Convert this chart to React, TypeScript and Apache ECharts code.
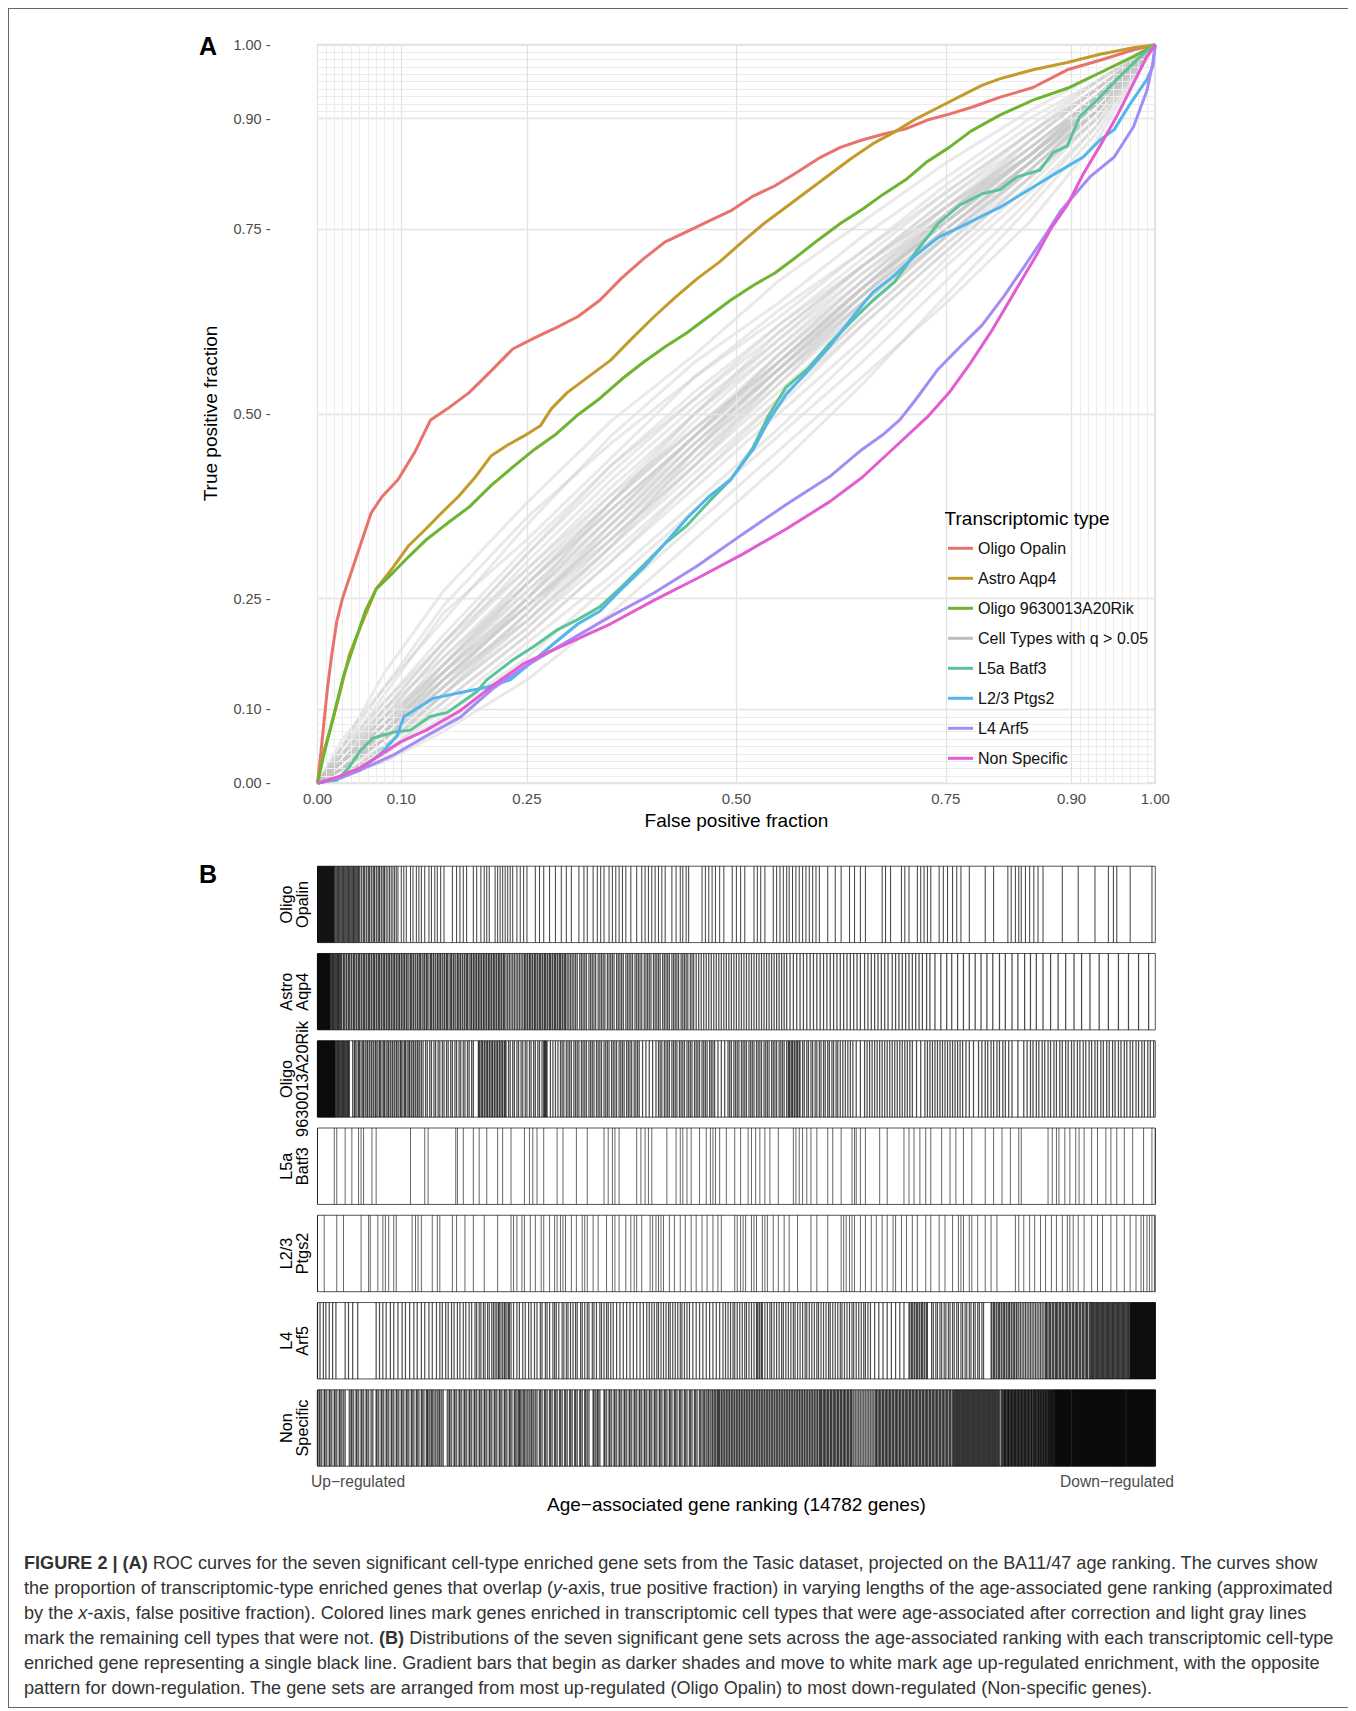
import React, { useEffect, useRef } from "react";
import * as echarts from "echarts";

const FONT = '"Liberation Sans", Arial, Helvetica, sans-serif';

// ---------- Panel A: axes ----------
const AXIS_TICKS = [0, 0.1, 0.25, 0.5, 0.75, 0.9, 1];
const MAJOR_BREAKS = [0, 0.1, 0.25, 0.5, 0.75, 0.9, 1];
const MINOR_BREAKS = [0.01, 0.02, 0.03, 0.04, 0.05, 0.06, 0.07, 0.08, 0.09, 0.91, 0.92, 0.93, 0.94, 0.95, 0.96, 0.97, 0.98, 0.99];

const SERIES_NAMES = [
  "Oligo Opalin",
  "Astro Aqp4",
  "Oligo 9630013A20Rik",
  "Cell Types with q > 0.05",
  "L5a Batf3",
  "L2/3 Ptgs2",
  "L4 Arf5",
  "Non Specific",
];
const SERIES_COLORS = ["#E8736C", "#C49A2A", "#6DB42F", "#BEBEBE", "#5CC399", "#52B6EA", "#A58BF6", "#E35CD0"];

// ---------- Panel A: ROC curves [false positive fraction, true positive fraction] ----------
const OLIGO_OPALIN = [
  [0, 0], [0.004, 0.041], [0.008, 0.086], [0.012, 0.13], [0.017, 0.174], [0.023, 0.219], [0.03, 0.251], [0.038, 0.278],
  [0.051, 0.322], [0.064, 0.366], [0.077, 0.388], [0.096, 0.411], [0.116, 0.448], [0.135, 0.492], [0.155, 0.507],
  [0.181, 0.529], [0.207, 0.558], [0.233, 0.588], [0.259, 0.603], [0.285, 0.617], [0.311, 0.632], [0.337, 0.654],
  [0.363, 0.684], [0.389, 0.71], [0.415, 0.733], [0.441, 0.747], [0.467, 0.761], [0.493, 0.775], [0.52, 0.795],
  [0.546, 0.809], [0.572, 0.827], [0.598, 0.846], [0.624, 0.861], [0.65, 0.871], [0.676, 0.879], [0.702, 0.886],
  [0.728, 0.898], [0.754, 0.906], [0.78, 0.915], [0.815, 0.929], [0.854, 0.942], [0.895, 0.966], [0.934, 0.979],
  [0.974, 0.993], [1, 1],
];
const ASTRO_AQP4 = [
  [0, 0], [0.007, 0.041], [0.014, 0.068], [0.025, 0.115], [0.038, 0.174], [0.051, 0.211], [0.07, 0.263], [0.09, 0.292],
  [0.109, 0.322], [0.129, 0.344], [0.148, 0.366], [0.168, 0.388], [0.188, 0.414], [0.207, 0.443], [0.227, 0.458],
  [0.246, 0.47], [0.266, 0.484], [0.279, 0.507], [0.298, 0.529], [0.324, 0.551], [0.35, 0.573], [0.376, 0.603],
  [0.402, 0.632], [0.428, 0.659], [0.454, 0.684], [0.48, 0.706], [0.507, 0.733], [0.533, 0.758], [0.559, 0.78],
  [0.585, 0.802], [0.611, 0.824], [0.637, 0.846], [0.663, 0.866], [0.689, 0.882], [0.715, 0.9], [0.741, 0.915],
  [0.767, 0.93], [0.793, 0.945], [0.815, 0.954], [0.854, 0.966], [0.895, 0.976], [0.934, 0.987], [0.974, 0.996], [1, 1],
];
const OLIGO_9630 = [
  [0, 0], [0.008, 0.041], [0.018, 0.086], [0.031, 0.145], [0.044, 0.189], [0.057, 0.233], [0.07, 0.263], [0.09, 0.285],
  [0.109, 0.307], [0.129, 0.329], [0.155, 0.352], [0.181, 0.374], [0.207, 0.403], [0.233, 0.428], [0.259, 0.452],
  [0.285, 0.473], [0.311, 0.499], [0.337, 0.521], [0.363, 0.547], [0.389, 0.57], [0.415, 0.591], [0.441, 0.61],
  [0.467, 0.632], [0.493, 0.654], [0.52, 0.674], [0.546, 0.691], [0.572, 0.713], [0.598, 0.736], [0.624, 0.758],
  [0.65, 0.777], [0.676, 0.798], [0.702, 0.817], [0.728, 0.842], [0.754, 0.861], [0.78, 0.883], [0.815, 0.905],
  [0.854, 0.925], [0.895, 0.941], [0.934, 0.962], [0.974, 0.984], [1, 1],
];
const L5A_BATF3 = [
  [0, 0], [0.012, 0.003], [0.023, 0.004], [0.038, 0.022], [0.051, 0.044], [0.066, 0.061], [0.09, 0.069], [0.111, 0.072],
  [0.134, 0.09], [0.155, 0.096], [0.19, 0.124], [0.202, 0.14], [0.233, 0.167], [0.259, 0.186], [0.285, 0.207],
  [0.311, 0.222], [0.337, 0.239], [0.363, 0.266], [0.389, 0.295], [0.415, 0.325], [0.441, 0.349], [0.467, 0.381],
  [0.493, 0.411], [0.52, 0.455], [0.539, 0.499], [0.559, 0.536], [0.585, 0.561], [0.611, 0.595], [0.637, 0.625],
  [0.663, 0.654], [0.689, 0.679], [0.715, 0.721], [0.741, 0.758], [0.767, 0.783], [0.793, 0.798], [0.815, 0.804],
  [0.835, 0.821], [0.862, 0.83], [0.878, 0.854], [0.895, 0.863], [0.91, 0.903], [0.934, 0.929], [0.954, 0.953],
  [0.974, 0.975], [0.986, 0.988], [1, 1],
];
const L23_PTGS2 = [
  [0, 0], [0.025, 0.006], [0.051, 0.018], [0.078, 0.043], [0.095, 0.064], [0.103, 0.09], [0.138, 0.115], [0.171, 0.123],
  [0.202, 0.13], [0.23, 0.14], [0.259, 0.167], [0.285, 0.192], [0.311, 0.216], [0.337, 0.233], [0.363, 0.263],
  [0.389, 0.292], [0.415, 0.325], [0.441, 0.359], [0.467, 0.388], [0.493, 0.411], [0.52, 0.452], [0.539, 0.492],
  [0.559, 0.526], [0.585, 0.558], [0.611, 0.591], [0.637, 0.629], [0.663, 0.665], [0.689, 0.688], [0.715, 0.716],
  [0.741, 0.739], [0.767, 0.753], [0.793, 0.768], [0.815, 0.78], [0.845, 0.801], [0.874, 0.821], [0.914, 0.848],
  [0.934, 0.871], [0.951, 0.885], [0.97, 0.92], [0.99, 0.953], [0.997, 0.97], [1, 1],
];
const L4_ARF5 = [
  [0, 0], [0.025, 0.007], [0.051, 0.018], [0.09, 0.038], [0.13, 0.064], [0.171, 0.09], [0.21, 0.129], [0.246, 0.157],
  [0.298, 0.192], [0.35, 0.226], [0.402, 0.258], [0.454, 0.295], [0.507, 0.337], [0.559, 0.377], [0.611, 0.415],
  [0.65, 0.452], [0.676, 0.473], [0.695, 0.492], [0.715, 0.521], [0.741, 0.561], [0.767, 0.591], [0.793, 0.62],
  [0.819, 0.659], [0.845, 0.702], [0.871, 0.746], [0.887, 0.775], [0.922, 0.821], [0.951, 0.848], [0.974, 0.889],
  [0.99, 0.938], [0.997, 0.975], [1, 1],
];
const NON_SPECIFIC = [
  [0, 0], [0.025, 0.009], [0.051, 0.021], [0.099, 0.056], [0.13, 0.072], [0.171, 0.099], [0.21, 0.133], [0.246, 0.162],
  [0.298, 0.189], [0.35, 0.216], [0.402, 0.248], [0.454, 0.278], [0.507, 0.31], [0.559, 0.344], [0.611, 0.381],
  [0.65, 0.414], [0.689, 0.455], [0.728, 0.496], [0.754, 0.529], [0.78, 0.57], [0.806, 0.615], [0.832, 0.665],
  [0.858, 0.715], [0.876, 0.752], [0.895, 0.783], [0.914, 0.825], [0.934, 0.863], [0.954, 0.903], [0.974, 0.948],
  [0.99, 0.984], [1, 1],
];
const COLORED_CURVES = [OLIGO_OPALIN, ASTRO_AQP4, OLIGO_9630, null, L5A_BATF3, L23_PTGS2, L4_ARF5, NON_SPECIFIC];

// gray curves (cell types with q > 0.05): y values at the shared x positions
const GRAY_X = [0, 0.03, 0.08, 0.15, 0.25, 0.35, 0.45, 0.55, 0.65, 0.75, 0.85, 0.93, 1];
const GRAY_Y = [
  [0, 0.05, 0.15, 0.26, 0.38, 0.49, 0.58, 0.68, 0.76, 0.84, 0.91, 0.96, 1],
  [0, 0.06, 0.13, 0.22, 0.35, 0.47, 0.57, 0.65, 0.74, 0.82, 0.9, 0.95, 1],
  [0, 0.04, 0.12, 0.23, 0.33, 0.44, 0.55, 0.64, 0.72, 0.81, 0.89, 0.95, 1],
  [0, 0.05, 0.11, 0.2, 0.32, 0.43, 0.52, 0.62, 0.71, 0.8, 0.88, 0.95, 1],
  [0, 0.04, 0.1, 0.19, 0.31, 0.42, 0.52, 0.61, 0.7, 0.79, 0.88, 0.94, 1],
  [0, 0.03, 0.09, 0.18, 0.29, 0.4, 0.5, 0.6, 0.7, 0.78, 0.87, 0.94, 1],
  [0, 0.04, 0.1, 0.17, 0.28, 0.39, 0.5, 0.59, 0.68, 0.78, 0.86, 0.93, 1],
  [0, 0.03, 0.08, 0.17, 0.27, 0.38, 0.48, 0.58, 0.68, 0.77, 0.86, 0.93, 1],
  [0, 0.03, 0.09, 0.16, 0.27, 0.37, 0.47, 0.58, 0.67, 0.77, 0.85, 0.93, 1],
  [0, 0.02, 0.08, 0.16, 0.26, 0.37, 0.47, 0.57, 0.67, 0.76, 0.85, 0.92, 1],
  [0, 0.03, 0.07, 0.15, 0.26, 0.36, 0.46, 0.56, 0.66, 0.76, 0.85, 0.93, 1],
  [0, 0.02, 0.07, 0.15, 0.25, 0.35, 0.46, 0.56, 0.66, 0.75, 0.84, 0.92, 1],
  [0, 0.03, 0.08, 0.14, 0.24, 0.35, 0.45, 0.55, 0.65, 0.75, 0.84, 0.92, 1],
  [0, 0.02, 0.06, 0.14, 0.24, 0.34, 0.44, 0.55, 0.65, 0.74, 0.84, 0.92, 1],
  [0, 0.02, 0.07, 0.13, 0.23, 0.33, 0.44, 0.54, 0.64, 0.74, 0.83, 0.91, 1],
  [0, 0.02, 0.06, 0.13, 0.22, 0.33, 0.43, 0.53, 0.63, 0.73, 0.83, 0.91, 1],
  [0, 0.01, 0.05, 0.12, 0.22, 0.32, 0.42, 0.52, 0.63, 0.73, 0.82, 0.91, 1],
  [0, 0.02, 0.06, 0.12, 0.21, 0.31, 0.41, 0.51, 0.62, 0.72, 0.82, 0.9, 1],
  [0, 0.01, 0.05, 0.11, 0.2, 0.3, 0.4, 0.5, 0.6, 0.71, 0.81, 0.9, 1],
  [0, 0.01, 0.04, 0.1, 0.19, 0.28, 0.38, 0.48, 0.59, 0.7, 0.8, 0.89, 1],
  [0, 0.01, 0.04, 0.09, 0.17, 0.27, 0.37, 0.47, 0.57, 0.68, 0.79, 0.89, 1],
  [0, 0.02, 0.06, 0.13, 0.25, 0.38, 0.5, 0.61, 0.7, 0.78, 0.85, 0.92, 1],
  [0, 0.04, 0.09, 0.15, 0.24, 0.33, 0.43, 0.55, 0.66, 0.77, 0.87, 0.94, 1],
  [0, 0.03, 0.07, 0.14, 0.22, 0.32, 0.45, 0.57, 0.67, 0.76, 0.84, 0.91, 1],
  [0, 0.01, 0.03, 0.07, 0.14, 0.23, 0.33, 0.43, 0.54, 0.66, 0.78, 0.88, 1],
  [0, 0.01, 0.03, 0.08, 0.16, 0.25, 0.35, 0.45, 0.55, 0.65, 0.76, 0.87, 1],
  [0, 0.02, 0.07, 0.15, 0.27, 0.38, 0.48, 0.57, 0.66, 0.75, 0.84, 0.92, 1],
  [0, 0.03, 0.08, 0.16, 0.28, 0.38, 0.49, 0.59, 0.69, 0.78, 0.86, 0.93, 1],
  [0, 0.02, 0.06, 0.14, 0.25, 0.36, 0.47, 0.58, 0.68, 0.77, 0.85, 0.92, 1],
  [0, 0.03, 0.09, 0.18, 0.3, 0.41, 0.51, 0.6, 0.69, 0.77, 0.85, 0.92, 1],
  [0, 0.02, 0.07, 0.14, 0.24, 0.34, 0.45, 0.56, 0.67, 0.77, 0.86, 0.93, 1],
  [0, 0.01, 0.05, 0.12, 0.23, 0.35, 0.46, 0.56, 0.66, 0.75, 0.84, 0.91, 1],
  [0, 0.04, 0.11, 0.19, 0.29, 0.39, 0.48, 0.57, 0.67, 0.76, 0.85, 0.93, 1],
  [0, 0.02, 0.06, 0.13, 0.23, 0.34, 0.45, 0.55, 0.64, 0.74, 0.83, 0.91, 1],
  [0, 0.03, 0.08, 0.15, 0.25, 0.36, 0.47, 0.57, 0.67, 0.76, 0.85, 0.93, 1],
  [0, 0.02, 0.05, 0.12, 0.21, 0.32, 0.43, 0.54, 0.65, 0.75, 0.84, 0.92, 1],
  [0, 0.03, 0.1, 0.19, 0.31, 0.43, 0.53, 0.62, 0.7, 0.79, 0.87, 0.94, 1],
  [0, 0.05, 0.13, 0.24, 0.36, 0.46, 0.55, 0.63, 0.72, 0.8, 0.88, 0.94, 1],
  [0, 0.01, 0.04, 0.11, 0.2, 0.3, 0.41, 0.52, 0.62, 0.72, 0.82, 0.9, 1],
  [0, 0.02, 0.07, 0.16, 0.27, 0.37, 0.47, 0.56, 0.65, 0.74, 0.83, 0.91, 1],
];

// ---------- Panel B: gene positions along the ranking (per mille of the 14782 ranked genes) ----------
const STRIP_LABELS = ["Oligo\nOpalin", "Astro\nAqp4", "Oligo\n9630013A20Rik", "L5a\nBatf3", "L2/3\nPtgs2", "L4\nArf5", "Non\nSpecific"];

const POS_OLIGO_OPALIN = [
  0, 0.5, 1, 1.5, 2, 2.5, 3, 3.5, 4, 4.5, 5, 5.5, 6, 6.5, 7, 7.5, 8, 8.5, 9, 9.5, 10, 10.5, 11, 11.5, 12, 12.5, 13,
  13.5, 14, 14.5, 15, 15.5, 16, 16.5, 17, 17.5, 18, 18.5, 19, 19.5, 20, 21, 22, 23, 24, 25, 26, 27, 28, 29, 30, 31,
  32, 33, 34, 35, 36, 37, 38, 39, 40, 41, 42, 43, 44, 45, 46, 47, 48, 49, 50,
  52, 53, 55, 56, 58, 59, 61, 62, 64, 65, 67, 68, 70, 71, 73, 74, 76, 77, 79, 80, 82, 84, 86, 88, 90, 92, 94, 96,
  100, 103, 106, 111, 114, 118, 121, 124, 128, 133, 136, 140, 143, 147, 151, 161, 166, 170, 174, 178,
  186, 190, 195, 199, 202, 205, 212, 215, 218, 221, 224, 227, 230, 233, 238, 242, 246, 250, 260, 265, 270, 277, 284,
  291, 297, 303, 312, 318, 322, 329, 334, 338, 342, 348, 352, 356, 360, 364, 368, 374, 381, 387, 391, 395, 399, 403,
  407, 411, 415, 423, 428, 433, 436, 440, 443, 459, 463, 467, 471, 475, 480, 485, 495, 500, 505, 510, 521, 525, 529,
  534, 544, 548, 552, 556, 560, 563, 567, 571, 575, 579, 583, 587, 591, 595, 599, 609, 618, 625, 635, 641, 648, 654,
  674, 678, 684, 697, 701, 706, 716, 720, 724, 728, 732, 742, 747, 752, 758, 763, 768, 778, 797, 807, 824, 828, 833,
  837, 840, 845, 850, 855, 860, 866, 889, 908, 928, 944, 950, 954, 970, 996,
];
const POS_ASTRO_AQP4 = [
  0, 0.5, 1, 1.5, 2, 2.5, 3, 3.5, 4, 4.5, 5, 5.5, 6, 6.5, 7, 7.5, 8, 8.5, 9, 9.5, 10, 10.5, 11, 11.5, 12, 12.5, 13,
  13.5, 14, 14.5, 15, 16, 17, 18, 19, 20, 21, 22, 23, 24, 25, 26, 27, 28, 29,
  31, 32, 34, 35, 37, 38, 40, 41, 43, 44, 46, 47, 49, 50, 52, 53, 55, 56, 58, 59, 61, 62, 64, 65, 67, 68, 70, 71, 73,
  74, 76, 77, 79, 80, 82, 83, 85, 86, 88, 89, 91, 92, 94, 95, 97, 98, 100, 101, 103, 104, 106, 107, 109, 111, 112,
  114, 115, 117, 119, 120, 122, 123, 125, 127, 128, 130, 131, 133, 135, 136, 138, 139, 141, 143, 144, 146, 147, 149,
  151, 152, 154, 155, 157, 159, 160, 162, 163, 165, 167, 168, 170, 171, 173, 175, 176, 178, 179, 181, 183, 184, 186,
  187, 189, 190, 192, 193, 195, 196, 198, 199, 201, 202, 204, 205, 207, 208, 210, 211, 213, 214, 216, 217, 219, 220,
  222, 223, 225, 227, 229, 231, 233, 235, 237, 239, 241, 243, 245, 247, 248, 250, 251, 253, 254, 256, 257, 259, 260,
  262, 263, 265, 266, 268, 269, 271, 272, 274, 275, 277, 278, 280, 281, 283, 284, 286, 287, 289, 290, 292, 293, 295,
  296, 298, 300,
  302, 304, 306, 308, 310, 313, 315, 317, 319, 321, 324, 326, 328, 330, 332, 335, 337, 339, 341, 343, 346, 348, 350,
  352, 354, 357, 359, 361, 363, 365, 368, 370, 372, 374, 376, 379, 381, 383, 385, 387, 390, 392, 394, 396, 398, 401,
  403, 405, 407, 409, 412, 414, 416, 418, 420, 423, 425, 427, 429, 431, 434, 436, 438, 440, 442, 445, 447, 449,
  452, 455, 458, 461, 464, 467, 470, 473, 476, 479, 482, 485, 488, 491, 494, 497, 500, 503, 506, 509, 512, 515, 518,
  521, 524, 527, 530, 533, 536, 539, 542, 545, 548, 551, 554, 557, 560,
  564, 568, 572, 576, 580, 584, 588, 592, 596, 600, 604, 608, 612, 616, 620, 624, 628, 632, 636, 640, 644, 648, 653,
  657, 661, 665, 669, 673, 677, 681, 686, 690, 694, 698, 702, 706, 710, 714, 718, 722, 727, 731,
  737, 744, 751, 757, 764, 771, 778, 785, 792, 799, 806, 814, 821, 829, 836, 844, 851, 858, 866, 875, 884, 893, 903,
  912, 922, 933, 944, 956, 968, 980, 992,
];
const POS_OLIGO_9630 = [
  0, 0.5, 1, 1.5, 2, 2.5, 3, 3.5, 4, 4.5, 5, 5.5, 6, 6.5, 7, 7.5, 8, 8.5, 9, 9.5, 10, 10.5, 11, 11.5, 12, 12.5, 13,
  13.5, 14, 14.5, 15, 15.5, 16, 16.5, 17, 17.5, 18, 18.5, 19, 19.5, 20, 20.5, 21, 22, 23, 24, 25, 26, 27, 28, 29, 30,
  31, 32, 33, 34, 35, 36, 37, 38,
  42, 44, 45, 47, 49, 50, 52, 54, 55, 57, 59, 60, 62, 64, 65, 67, 69, 70, 72, 74, 75, 77, 79, 80, 82, 84, 85, 87, 89,
  90, 92, 94, 95, 97, 99, 100, 102, 104, 105, 107, 109, 110, 112, 114, 115, 117, 119, 120, 122, 124, 126,
  129, 131, 134, 136, 139, 141, 144, 146, 149, 151, 154, 156, 159, 161, 164, 166, 169, 171, 174, 176, 179, 181, 184, 186,
  192, 193, 194, 196, 197, 199, 200, 202, 203, 205, 206, 208, 209, 211, 212, 214, 215, 217, 218, 220, 221, 223, 224,
  225, 228, 230, 233, 235, 238, 240, 243, 245, 248, 250, 253, 255, 258, 260, 263, 265, 268,
  270, 271, 272, 273, 274, 278, 281, 284, 287,
  290, 292, 294, 297, 299, 301, 303, 306, 308, 310, 312, 315, 317, 319, 321, 324, 326, 328, 330, 333, 335, 337, 339,
  342, 344, 346, 348, 351, 353, 355, 357, 360, 362, 364, 366, 369, 371, 373, 375, 378, 380, 382, 384, 388, 392, 396,
  400, 404, 407, 409, 411, 414, 416, 418, 420, 423, 425, 427, 429, 432, 434, 436, 438, 441, 443, 445, 447, 450, 452,
  454, 456, 459, 461, 463, 465, 468, 470, 472, 474, 478, 482, 486, 490, 492, 494, 497, 499, 501, 503, 506, 508, 510,
  512, 515, 517, 519, 521, 524, 526, 528, 530, 533, 535, 537, 539, 542, 544, 546, 548, 551, 553, 555, 557, 560, 562,
  563, 564, 566, 567, 569, 570, 572, 573, 575, 576,
  579, 581, 584, 586, 589, 591, 594, 596, 599, 601, 604, 606, 609, 611, 614, 616, 619, 621,
  624, 627, 630, 633, 636, 639, 643, 648, 653, 656, 659, 662, 665, 668, 671, 674, 677, 680, 683, 686, 689, 692, 695,
  698, 701, 704, 707, 710, 715, 720, 725, 728, 731, 734, 737, 740, 743, 746, 749, 752, 755, 758, 761, 764, 767, 770,
  774, 778, 783, 789, 793, 797, 800, 804, 807, 811, 814, 818, 821, 825, 829, 836, 843, 847, 851, 854, 858, 861, 865,
  868, 872, 875, 879, 882, 886, 889, 893, 896, 900, 903, 907, 910, 914, 917, 921, 924, 928, 931, 935, 938, 942, 945,
  949, 952, 956, 959, 963, 966, 970, 973, 977, 980, 984, 987, 991, 994, 998,
];
const POS_L5A_BATF3 = [
  0, 20, 23, 33, 41, 49, 52, 55, 65, 70, 111, 128, 132, 165, 167, 174, 186, 193, 202, 215, 221, 231, 247, 253, 257,
  262, 270, 286, 293, 309, 322, 342, 347, 352, 355, 360, 381, 386, 391, 395, 399, 417, 428, 433, 436, 441, 446, 456,
  464, 469, 472, 475, 480, 488, 498, 505, 514, 518, 523, 528, 534, 540, 550, 568, 571, 575, 579, 584, 589, 596, 609,
  615, 625, 638, 641, 643, 648, 654, 671, 680, 700, 706, 712, 719, 726, 732, 745, 755, 762, 771, 781, 797, 807, 817,
  827, 837, 840, 872, 877, 882, 885, 892, 898, 905, 909, 915, 924, 931, 941, 947, 954, 963, 973, 986, 996, 1000,
];
const POS_L23_PTGS2 = [
  0, 8, 23, 31, 52, 61, 63, 72, 78, 81, 85, 91, 94, 113, 117, 120, 124, 137, 143, 146, 161, 166, 176, 186, 199, 215,
  231, 234, 238, 244, 247, 254, 260, 267, 270, 277, 283, 286, 290, 293, 296, 303, 309, 316, 319, 322, 329, 335, 345,
  352, 355, 360, 368, 374, 378, 381, 387, 397, 400, 404, 407, 410, 413, 420, 426, 433, 439, 446, 452, 459, 465, 472,
  478, 482, 498, 501, 505, 508, 511, 518, 521, 524, 531, 534, 537, 544, 550, 557, 563, 573, 589, 596, 609, 625, 628,
  631, 635, 638, 641, 648, 654, 661, 667, 674, 680, 687, 690, 697, 703, 710, 716, 726, 732, 742, 749, 758, 765, 768,
  771, 778, 781, 788, 797, 804, 811, 833, 837, 843, 850, 856, 863, 869, 876, 882, 889, 895, 898, 902, 908, 915, 924,
  931, 937, 947, 954, 963, 970, 977, 983, 986, 990, 993, 996, 999,
];
const POS_L4_ARF5 = [
  0, 3, 7, 10, 14, 18, 22, 33, 37, 42, 48, 70, 74, 78,
  82, 87, 91, 96, 101, 105, 110, 115, 119, 124, 128, 133, 137, 142, 146, 149, 153, 156, 160, 163, 167, 170, 174, 177,
  181, 184, 188, 190, 193, 195, 198, 200, 203, 205, 208, 210, 212, 214, 216, 217, 219, 221, 223, 224, 226, 228,
  229, 231, 234, 238, 241, 245, 248, 252, 255, 259, 262,
  266, 268, 272, 274, 277, 281, 283, 285, 288, 292, 294, 297, 299, 302, 305, 308, 310, 314, 316, 319, 322, 324, 328,
  330, 333, 337, 339, 342, 345, 347, 350, 353, 357, 361, 365, 369, 373, 377, 381, 385, 389, 393,
  396, 399, 402, 405, 407, 410, 413, 416, 419, 421, 424, 427, 430, 433, 435, 438, 441, 444, 448, 452, 456, 460, 464,
  468, 472, 476, 480, 484, 487, 490, 493, 496, 498, 501, 504, 507, 510, 512, 515, 518, 521,
  524, 525, 527, 528, 530, 531,
  534, 537, 540, 542, 545, 548, 551, 554, 556, 559, 562, 565, 568, 570, 573, 576, 579, 582, 584, 587, 590, 593, 596,
  598, 601, 604, 607, 610, 612, 615, 618, 621, 624, 626, 629, 632, 635, 638, 640, 643, 646, 649, 652, 654, 657, 660,
  665, 670, 675, 680, 685, 690, 695, 700,
  706, 707, 709, 710, 712, 713, 715, 716, 718, 719, 721, 722, 724, 725, 727, 728,
  733, 735, 738, 740, 743, 745, 748, 750, 753, 755, 758, 760, 763, 765, 768, 770, 773, 775, 778, 780, 783, 785, 788,
  790, 793, 795,
  804, 805, 807, 808, 810, 811, 813, 814, 816, 817, 819, 820, 822, 823, 825, 826, 828, 829, 831, 832, 834, 835, 837,
  839, 841, 843, 845, 847, 849, 851, 853, 855, 857, 859, 861, 863, 865, 867, 869,
  870, 871, 873, 874, 875, 877, 878, 879, 881, 882, 883, 885, 886, 887, 889, 890, 891, 893, 894, 895, 897, 898, 899,
  901, 902, 903, 905, 906, 907, 909, 910, 911, 913, 914, 915, 917, 918, 919, 921, 922,
  923, 924, 925, 926, 927, 928, 929, 930, 931, 932, 933, 934, 935, 936, 937, 938, 939, 940, 941, 942, 943, 944, 945,
  946, 947, 948, 949, 950, 951, 952, 953, 954, 955, 956, 957, 958, 959, 960, 961, 962, 963, 964, 965, 966, 967, 968,
  969, 970, 970.5, 971, 971.5, 972, 972.5, 973, 973.5, 974, 974.5, 975, 975.5, 976, 976.5, 977, 977.5, 978, 978.5,
  979, 979.5, 980, 980.5, 981, 981.5, 982, 982.5, 983, 983.5, 984, 984.5, 985, 985.5, 986, 986.5, 987, 987.5, 988,
  988.5, 989, 989.5, 990, 990.5, 991, 991.5, 992, 992.5, 993, 993.5, 994, 994.5, 995, 995.5, 996, 996.5, 997, 997.5,
  998, 998.5, 999, 999.5, 1000,
];
const POS_NON_SPECIFIC = [
  0, 2, 3, 5, 8, 9, 11, 14, 15, 17, 20, 21, 23, 26, 27, 29, 31, 33, 38, 40, 41, 43, 46, 47, 49, 52, 53, 55, 58, 59, 61,
  64, 66, 70, 71, 73, 76, 77, 79, 82, 83, 85, 88, 89, 91, 94, 95, 97, 100, 101, 103, 106, 107, 109, 112, 113, 115, 118,
  119, 121, 124, 125, 127, 130, 131, 132, 134, 136, 137, 139, 141, 143, 145, 146, 148, 150,
  155, 157, 158, 160, 163, 164, 166, 169, 170, 172, 175, 176, 178, 181, 182, 184, 187, 188, 190, 193, 194, 196, 199,
  200, 202, 205, 206, 208, 211, 212, 214, 217, 218, 220, 223, 224, 226, 229, 230, 232, 235, 236, 238, 240, 241, 242,
  244, 246, 247, 249, 251, 253, 255, 256, 258, 260, 262, 265, 266, 268, 271, 272, 274, 277, 278, 280, 283, 284, 286,
  289, 290, 292, 295, 296, 298, 301, 302, 304, 307, 308, 310, 313, 314, 316, 319, 320, 322, 324,
  329, 330, 332, 334, 335, 337, 342, 343, 345, 348, 349, 351, 354, 355, 357, 360, 361, 363, 366, 367, 369, 372, 373,
  375, 378, 379, 381, 384, 385, 387, 390, 391, 393, 396, 397, 399, 402, 403, 405, 408, 409, 411, 414, 415, 417, 420,
  421, 423, 426, 427, 429, 432, 433, 435, 438, 439, 441, 444, 445, 447, 450, 451, 453, 456, 457, 459, 461, 462, 464,
  466, 467, 469, 471, 472, 474, 475, 477, 478, 479, 480,
  482, 483, 485, 486, 488, 489, 491, 492, 494, 495, 497, 498, 500, 501, 503, 504, 506, 507, 509, 510, 512, 513, 515,
  516, 518, 519, 521, 522, 524, 525, 527, 528, 530, 531, 533, 534, 536, 537, 539, 540, 542, 543, 545, 546, 548, 549,
  551, 552, 554, 555, 557, 558, 560, 561, 563, 564, 566, 567, 569, 570, 572, 573, 575, 576, 578, 579, 581, 582, 584,
  585, 587, 588, 590, 591, 593, 594, 596, 597, 599, 600,
  601, 602, 604, 605, 606, 608, 609, 610, 612, 613, 614, 616, 617, 618, 620, 621, 622, 624, 625, 626, 628, 629, 630,
  632, 633, 634, 636, 637, 638, 640, 642, 644, 646, 648, 650, 652, 654, 656, 658, 660, 662, 664, 666, 667, 668, 670,
  671, 672, 674, 675, 676, 678, 679, 680, 682, 683, 684, 686, 687, 688, 690, 691, 692, 694, 695, 696, 698, 699, 700,
  702, 703, 704, 706, 707, 708, 710, 711, 712, 714, 715, 716, 718, 719, 720, 722, 723, 724, 726, 727, 728, 730, 731,
  732, 734, 735, 736, 738, 739, 740, 742, 743, 744, 746, 747, 748, 750, 751, 752, 754, 755, 756, 758, 759, 760,
  761, 762, 763, 764, 765, 766, 767, 768, 769, 770, 771, 772, 773, 774, 775, 776, 777, 778, 779, 780, 781, 782, 783,
  784, 785, 786, 787, 788, 789, 790, 791, 792, 793, 794, 795, 796, 797, 798, 799, 800, 801, 802, 803, 804, 805, 806,
  807, 808, 809, 810, 811, 812, 813, 814, 816, 817, 818, 819, 820, 821, 822, 823, 824, 825, 826, 827, 828, 829, 830,
  831, 832, 833, 834, 835, 836, 837, 838, 839, 840, 841, 842, 843, 844, 845, 846, 847, 848, 849, 850, 851, 852, 853,
  855, 856, 857, 858, 859, 860, 861, 862, 863, 864, 865, 866, 867, 868, 869, 870, 871, 872, 873, 874, 875, 876, 877,
  878, 879, 880, 881, 882, 883, 884, 885, 886, 887, 888, 889, 890, 891, 892, 893, 894, 895, 896, 897, 898, 899,
  901, 902, 903, 904, 905, 906, 907, 908, 909, 910, 911, 912, 913, 914, 915, 916, 917, 918, 919, 920, 921, 922, 923,
  924, 925, 926, 927, 928, 929, 930, 931, 932, 933, 934, 935, 936, 937, 938, 939, 940, 941, 942, 943, 944, 945, 946,
  947, 948, 949, 950, 951, 952, 953, 954, 955, 956, 957, 958, 959, 960, 961, 962, 963, 964, 966, 967, 968, 969, 970,
  971, 972, 973, 974, 975, 976, 977, 978, 979, 980, 981, 982, 983, 984, 985, 986, 987, 988, 989, 990, 991, 992, 993,
  994, 995, 996, 997, 998, 999, 1000,
  820.5, 824.5, 828.5, 832.5, 836.5, 840.5, 844.5, 848.5, 852.5, 854.5, 856.5, 860.5, 863.5, 866.5, 869.5, 872.5,
  874.5, 876.5, 878.5,
  880.5, 881.5, 882.5, 883.5, 884.5, 885.5, 886.5, 887.5, 888.5, 889.5, 890.5, 891.5, 892.5, 893.5, 894.5, 895.5,
  896.5, 897.5, 898.5, 899.5, 900.5, 901.5, 902.5, 903.5, 904.5, 905.5, 906.5, 907.5, 908.5, 909.5, 910.5, 911.5,
  912.5, 913.5, 914.5, 915.5, 916.5, 917.5, 918.5, 919.5, 920.5, 921.5, 922.5, 923.5, 924.5, 925.5, 926.5, 927.5,
  928.5, 929.5, 930.5, 931.5, 932.5, 933.5, 934.5, 935.5, 936.5, 937.5, 938.5, 939.5, 940.5, 941.5, 942.5, 943.5,
  944.5, 945.5, 946.5, 947.5, 948.5, 949.5, 950.5, 951.5, 952.5, 953.5, 954.5, 955.5, 956.5, 957.5, 958.5, 959.5,
  960.5, 961.5, 962.5, 963.5, 964.5, 965.5, 966.5, 967.5, 968.5, 969.5, 970.5, 971.5, 972.5, 973.5, 974.5, 975.5,
  976.5, 977.5, 978.5, 979.5, 980.5, 981.5, 982.5, 983.5, 984.5, 985.5, 986.5, 987.5, 988.5, 989.5, 990.5, 991.5,
  992.5, 993.5, 994.5, 995.5, 996.5, 997.5, 998.5, 999.5,
];
const STRIP_POSITIONS = [POS_OLIGO_OPALIN, POS_ASTRO_AQP4, POS_OLIGO_9630, POS_L5A_BATF3, POS_L23_PTGS2, POS_L4_ARF5, POS_NON_SPECIFIC];

const CAPTION_LINES = [
  [["b", "FIGURE 2 | (A)"], ["", " ROC curves for the seven significant cell-type enriched gene sets from the Tasic dataset, projected on the BA11/47 age ranking. The curves show"]],
  [["", "the proportion of transcriptomic-type enriched genes that overlap ("], ["i", "y"], ["", "-axis, true positive fraction) in varying lengths of the age-associated gene ranking (approximated"]],
  [["", "by the "], ["i", "x"], ["", "-axis, false positive fraction). Colored lines mark genes enriched in transcriptomic cell types that were age-associated after correction and light gray lines"]],
  [["", "mark the remaining cell types that were not. "], ["b", "(B)"], ["", " Distributions of the seven significant gene sets across the age-associated ranking with each transcriptomic cell-type"]],
  [["", "enriched gene representing a single black line. Gradient bars that begin as darker shades and move to white mark age up-regulated enrichment, with the opposite"]],
  [["", "pattern for down-regulation. The gene sets are arranged from most up-regulated (Oligo Opalin) to most down-regulated (Non-specific genes)."]],
];

// ---------- layout & style (chart pixel coordinates) ----------
const PLOT = { left: 308.5, top: 35.7, width: 837.8, height: 738.6 };
const STRIP_TOP0 = 857.2;
const STRIP_STEP = 87.27;
const STRIP_H = 76.4;
const STRIP_LINE_WIDTH = [1.05, 1.25, 1.25, 1.0, 1.0, 1.2, 1.5];
const STRIP_LINE_OPACITY = [0.72, 0.7, 0.7, 0.6, 0.6, 0.7, 0.62];

function App() {
  const ref = useRef<HTMLDivElement | null>(null);

  useEffect(() => {
    if (!ref.current) return;
    const chart = echarts.init(ref.current, undefined, { renderer: "svg" });

    const isTick = (v: number) => AXIS_TICKS.some((t) => Math.abs(t - v) < 1e-6);

    const grids: any[] = [
      { left: PLOT.left, top: PLOT.top, width: PLOT.width, height: PLOT.height, show: true, borderColor: "#7a7a7a", borderWidth: 1, backgroundColor: "transparent" },
    ];
    const xAxes: any[] = [
      {
        type: "value", gridIndex: 0, min: 0, max: 1, interval: 0.05,
        axisLine: { show: false }, axisTick: { show: false }, splitLine: { show: false },
        axisLabel: {
          customValues: AXIS_TICKS, margin: 8, fontSize: 15, color: "#4d4d4d", fontFamily: FONT,
          formatter: (v: number) => (isTick(Number(v)) ? Number(v).toFixed(2) : ""),
        },
      },
    ];
    const yAxes: any[] = [
      {
        type: "value", gridIndex: 0, min: 0, max: 1, interval: 0.05,
        axisLine: { show: false }, axisTick: { show: false }, splitLine: { show: false },
        axisLabel: {
          customValues: AXIS_TICKS, margin: 47, fontSize: 14.5, color: "#4d4d4d", fontFamily: FONT,
          formatter: (v: number) => (isTick(Number(v)) ? Number(v).toFixed(2) + " -" : ""),
        },
      },
    ];

    const series: any[] = [];

    const gridLineData = (key: "xAxis" | "yAxis") => [
      ...MAJOR_BREAKS.map((v) => ({ [key]: v, lineStyle: { color: "#e3e3e3", width: 1.3, type: "solid" } })),
      ...MINOR_BREAKS.map((v) => ({ [key]: v, lineStyle: { color: "#ececec", width: 1, type: "solid" } })),
    ];
    series.push({
      type: "line", xAxisIndex: 0, yAxisIndex: 0, z: 1, silent: true, data: [[0, 0]], showSymbol: false,
      lineStyle: { opacity: 0 },
      markLine: { silent: true, symbol: ["none", "none"], label: { show: false }, animation: false, data: gridLineData("yAxis") },
    });
    series.push({
      type: "line", xAxisIndex: 0, yAxisIndex: 0, z: 3, silent: true, data: [[0, 0]], showSymbol: false,
      lineStyle: { opacity: 0 },
      markLine: { silent: true, symbol: ["none", "none"], label: { show: false }, animation: false, data: gridLineData("xAxis") },
    });

    GRAY_Y.forEach((ys) => {
      series.push({
        type: "line", name: SERIES_NAMES[3], xAxisIndex: 0, yAxisIndex: 0, z: 4, silent: true,
        showSymbol: false, color: SERIES_COLORS[3],
        data: GRAY_X.map((x, i) => [x, ys[i]]),
        lineStyle: { color: "#c6c6c6", width: 3, opacity: 0.38 },
      });
    });
    COLORED_CURVES.forEach((curve, i) => {
      if (!curve) return;
      series.push({
        type: "line", name: SERIES_NAMES[i], xAxisIndex: 0, yAxisIndex: 0, z: 5, silent: true,
        showSymbol: false, color: SERIES_COLORS[i], data: curve,
        lineStyle: { color: SERIES_COLORS[i], width: 3 },
      });
    });

    STRIP_POSITIONS.forEach((pos, k) => {
      const gi = k + 1;
      const lw = STRIP_LINE_WIDTH[k];
      const op = STRIP_LINE_OPACITY[k];
      grids.push({ left: PLOT.left, top: STRIP_TOP0 + k * STRIP_STEP, width: PLOT.width, height: STRIP_H, show: true, borderColor: "#555555", borderWidth: 1 });
      xAxes.push({ type: "value", gridIndex: gi, min: 0, max: 1000, show: false });
      yAxes.push({ type: "value", gridIndex: gi, min: 0, max: 1, show: false });
      series.push({
        type: "custom", xAxisIndex: gi, yAxisIndex: gi, silent: true, z: 2,
        data: pos.map((p) => [p]),
        dimensions: ["rank"],
        encode: { x: 0 },
        renderItem: (params: any, api: any) => {
          const v = api.value(0);
          const a = api.coord([v, 0]);
          const b = api.coord([v, 1]);
          return {
            type: "line",
            shape: { x1: a[0], y1: a[1], x2: b[0], y2: b[1] },
            style: { stroke: "#000", lineWidth: lw, opacity: op },
          };
        },
      });
    });

    const txt = (x: number, y: number, text: string, opts: any = {}) => ({
      type: "text", x, y, silent: true, z: 10, rotation: opts.rotation || 0,
      style: {
        text, fill: opts.fill || "#000",
        font: `${opts.weight || "normal"} ${opts.size || 15}px ${FONT}`,
        align: opts.align || "center", verticalAlign: opts.va || "middle",
        textAlign: opts.align || "center", textVerticalAlign: opts.va || "middle",
        lineHeight: opts.lineHeight || undefined,
      },
    });

    const graphics: any[] = [
      { type: "rect", shape: { x: 936, y: 489, width: 202, height: 286 }, style: { fill: "#ffffff" }, z: 2, silent: true },
      txt(199, 36.5, "A", { size: 25, weight: "bold" }),
      txt(199, 864.5, "B", { size: 25, weight: "bold" }),
      txt(201.5, 404.5, "True positive fraction", { size: 19, rotation: Math.PI / 2 }),
      txt(727.4, 811.4, "False positive fraction", { size: 19 }),
      txt(935.6, 509, "Transcriptomic type", { size: 19, align: "left" }),
      txt(302, 1472.4, "Up\u2212regulated", { size: 15.6, align: "left", fill: "#4d4d4d" }),
      txt(1165, 1472.4, "Down\u2212regulated", { size: 15.6, align: "right", fill: "#4d4d4d" }),
      txt(727.4, 1495.5, "Age\u2212associated gene ranking (14782 genes)", { size: 19 }),
    ];
    STRIP_LABELS.forEach((lab, k) => {
      graphics.push(txt(285, STRIP_TOP0 + k * STRIP_STEP + STRIP_H / 2, lab, { size: 16.3, rotation: Math.PI / 2, lineHeight: 16.5 }));
    });

    chart.setOption({
      animation: false,
      textStyle: { fontFamily: FONT },
      grid: grids,
      xAxis: xAxes,
      yAxis: yAxes,
      legend: {
        orient: "vertical", left: 939, top: 530.3, padding: 0,
        itemWidth: 25, itemHeight: 3, itemGap: 12, icon: "rect", selectedMode: false,
        textStyle: { fontSize: 16, color: "#111", lineHeight: 18, fontFamily: FONT },
        data: SERIES_NAMES.map((n, i) => ({ name: n, itemStyle: { color: SERIES_COLORS[i], opacity: 1 } })),
        z: 6,
      },
      graphic: { elements: graphics },
      series,
    });

    return () => chart.dispose();
  }, []);

  return (
    <div style={{ position: "relative", width: 1344, height: 1698, border: "1px solid #666", background: "#fff" }}>
      <div ref={ref} style={{ position: "absolute", left: 0, top: 0, width: 1344, height: 1530 }} />
      <div
        style={{
          position: "absolute", left: 15, top: 1541.5, fontFamily: FONT, fontSize: 18.1, lineHeight: "25.1px",
          color: "#333", whiteSpace: "nowrap",
        }}
      >
        {CAPTION_LINES.map((line, i) => (
          <div key={i}>
            {line.map(([k, t], j) =>
              k === "b" ? <b key={j}>{t}</b> : k === "i" ? <i key={j}>{t}</i> : <span key={j}>{t}</span>
            )}
          </div>
        ))}
      </div>
    </div>
  );
}

export default App;
